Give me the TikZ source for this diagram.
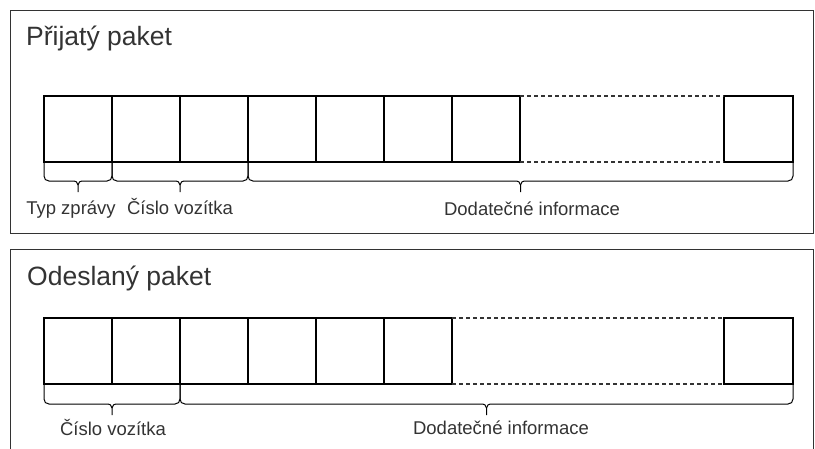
\documentclass[tikz,border=0pt]{standalone}
\usepackage{fontspec}
\setmainfont{Liberation Sans}
\definecolor{txt}{HTML}{333333}
\definecolor{frm}{HTML}{333333}
\newcommand{\mybrace}[3]{% x1, x2, ytop
  \pgfmathsetmacro{\mm}{(#1+#2)/2}
  \draw[bracestyle] (#1,#3) -- (#1,#3+14) .. controls (#1,#3+17) and (#1+2,#3+19) .. (#1+5,#3+19)
    -- (\mm-6,#3+19) .. controls (\mm-2,#3+19) and (\mm,#3+20) .. (\mm,#3+23) -- (\mm,#3+30);
  \draw[bracestyle] (#2,#3) -- (#2,#3+14) .. controls (#2,#3+17) and (#2-2,#3+19) .. (#2-5,#3+19)
    -- (\mm+6,#3+19) .. controls (\mm+2,#3+19) and (\mm,#3+20) .. (\mm,#3+23);
}
\begin{document}
\begin{tikzpicture}[x=1pt,y=-1pt,
  cell/.style={draw=black,line width=1.1pt,minimum width=68pt,minimum height=66pt,inner sep=0pt,outer sep=0pt},
  gap/.style={draw=black!80,line width=1.1pt,dash pattern=on 4pt off 3pt},
  bracestyle/.style={draw=black,line width=1pt},
  frame/.style={draw=frm,line width=0.9pt},
  title/.style={anchor=base west,inner sep=0pt,text=txt,font=\fontsize{26.5}{29}\selectfont},
  lbl/.style={anchor=base,inner sep=0pt,text=txt,font=\fontsize{18.5}{21}\selectfont}]
\useasboundingbox (0,0) rectangle (815,448);
% top panel
\draw[frame] (10,10) rectangle (813,233);
\node[title] (t1) at (26,45) {Přijatý paket};
\foreach \i/\x in {1/78,2/146,3/214,4/282,5/350,6/418,7/486}{
  \node[cell] (a\i) at (\x,129) {};
}
\node[cell,minimum width=69pt] (a8) at (758.5,129) {};
\draw[gap] (a7.north east) -- (a8.north west);
\draw[gap] (a7.south east) -- (a8.south west);
\mybrace{44}{112}{162}
\mybrace{112}{248}{162}
\mybrace{248}{793}{162}
\node[lbl] (l1) at (71,214) {Typ zprávy};
\node[lbl] (l2) at (180,214) {Číslo vozítka};
\node[lbl] (l3) at (532,215) {Dodatečné informace};
% bottom panel
\draw[frame] (10,452) -- (10,249) -- (813,249) -- (813,452);
\node[title] (t2) at (27,285) {Odeslaný paket};
\foreach \i/\x in {1/78,2/146,3/214,4/282,5/350,6/418}{
  \node[cell] (b\i) at (\x,351) {};
}
\node[cell,minimum width=69pt] (b8) at (758.5,351) {};
\draw[gap] (b6.north east) -- (b8.north west);
\draw[gap] (b6.south east) -- (b8.south west);
\mybrace{44}{180}{385}
\mybrace{180}{793}{385}
\node[lbl] (m1) at (113,435) {Číslo vozítka};
\node[lbl] (m2) at (501,434) {Dodatečné informace};
\end{tikzpicture}
\end{document}
